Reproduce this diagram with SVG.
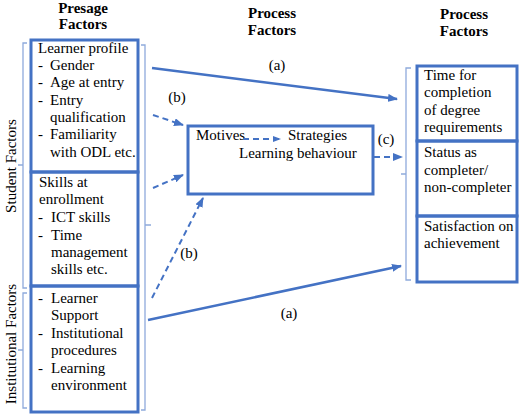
<svg xmlns="http://www.w3.org/2000/svg" width="520" height="415" viewBox="0 0 520 415" font-family="'Liberation Serif', 'DejaVu Serif', serif">
<defs>
<style>
text{font-family:'Liberation Serif','DejaVu Serif',serif;font-size:15px;fill:#000}
.h{font-weight:bold;text-anchor:middle}
.c{text-anchor:middle}
.box{fill:none;stroke:#4472C4;stroke-width:3}
.br{fill:none;stroke:#8FAADC;stroke-width:1.3}
.sol{fill:none;stroke:#4472C4;stroke-width:2.5}
.dash{fill:none;stroke:#4472C4;stroke-width:2;stroke-dasharray:6 4}
</style>
<marker id="ah" markerWidth="10" markerHeight="8" refX="9" refY="4" orient="auto" markerUnits="userSpaceOnUse">
<path d="M0,0 L10,4 L0,8 Z" fill="#4472C4"/>
</marker>
<marker id="ahs" markerWidth="8" markerHeight="6" refX="7" refY="3" orient="auto" markerUnits="userSpaceOnUse">
<path d="M0,0 L8,3 L0,6 Z" fill="#4472C4"/>
</marker>
</defs>
<rect width="520" height="415" fill="#fff"/>

<g id="headers">
<text class="h" x="83" y="13">Presage</text>
<text class="h" x="83" y="29">Factors</text>
<text class="h" x="272" y="18">Process</text>
<text class="h" x="272" y="35">Factors</text>
<text class="h" x="464" y="19">Process</text>
<text class="h" x="464" y="36">Factors</text>
</g>

<g id="brackets">
<path class="br" d="M27,43 H23 V288 H27 M23,165 H18"/>
<path class="br" d="M27,293 H23 V408 H27 M23,350 H18"/>
<path class="br" d="M141,45 H145 V410 H141 M145,225 H151"/>
<path class="br" d="M411,68 H406 V280 H411 M406,174 H401"/>
<text transform="translate(16,166) rotate(-90)" class="c">Student Factors</text>
<text transform="translate(16,344) rotate(-90)" class="c">Institutional Factors</text>
</g>

<g id="learner-profile">
<rect class="box" x="31" y="40" width="107" height="132"/>
<text x="38" y="53">Learner profile</text>
<text x="38" y="70">-</text><text x="50" y="70">Gender</text>
<text x="38" y="87">-</text><text x="50" y="87">Age at entry</text>
<text x="38" y="105">-</text><text x="50" y="105">Entry</text>
<text x="50" y="122">qualification</text>
<text x="38" y="139">-</text><text x="50" y="139">Familiarity</text>
<text x="50" y="157">with ODL etc.</text>
</g>

<g id="skills">
<rect class="box" x="31" y="172" width="107" height="114"/>
<text x="39" y="187">Skills at</text>
<text x="39" y="204">enrollment</text>
<text x="38" y="222">-</text><text x="51" y="222">ICT skills</text>
<text x="38" y="240">-</text><text x="51" y="240">Time</text>
<text x="51" y="257">management</text>
<text x="51" y="274">skills etc.</text>
</g>

<g id="institutional">
<rect class="box" x="31" y="286" width="107" height="126"/>
<text x="38" y="303">-</text><text x="51" y="303">Learner</text>
<text x="51" y="320">Support</text>
<text x="38" y="338">-</text><text x="51" y="338">Institutional</text>
<text x="51" y="355">procedures</text>
<text x="38" y="373">-</text><text x="51" y="373">Learning</text>
<text x="51" y="390">environment</text>
</g>

<g id="process">
<rect class="box" x="188" y="126" width="185" height="68"/>
<text x="196" y="140">Motives</text>
<text x="288" y="140">Strategies</text>
<text x="239" y="158">Learning behaviour</text>
<path class="dash" d="M243,139 H280" stroke-width="1.5" stroke-dasharray="3 2" marker-end="url(#ahs)"/>
</g>

<g id="time-completion">
<rect class="box" x="417" y="66" width="100" height="75"/>
<text x="424" y="80">Time for</text>
<text x="424" y="97">completion</text>
<text x="424" y="115">of degree</text>
<text x="424" y="132">requirements</text>
</g>

<g id="status">
<rect class="box" x="417" y="141" width="100" height="75"/>
<text x="424" y="157">Status as</text>
<text x="424" y="175">completer/</text>
<text x="424" y="192">non-completer</text>
</g>

<g id="satisfaction">
<rect class="box" x="417" y="216" width="100" height="66"/>
<text x="424" y="231">Satisfaction on</text>
<text x="424" y="248">achievement</text>
</g>

<g id="connectors">
<path class="sol" d="M152,68 L397,99" marker-end="url(#ah)"/>
<path class="sol" d="M148,320 L401,266" marker-end="url(#ah)"/>
<path class="dash" d="M153,115 L183,125" marker-end="url(#ah)"/>
<path class="dash" d="M153,188 L183,175" marker-end="url(#ah)"/>
<path class="dash" d="M152,298 L203,198" marker-end="url(#ah)"/>
<path class="dash" d="M374,157 L402,157" marker-end="url(#ah)"/>
<text class="c" x="277" y="70">(a)</text>
<text class="c" x="289" y="318">(a)</text>
<text class="c" x="177" y="102">(b)</text>
<text class="c" x="189" y="258">(b)</text>
<text class="c" x="386" y="144">(c)</text>
</g>
</svg>
